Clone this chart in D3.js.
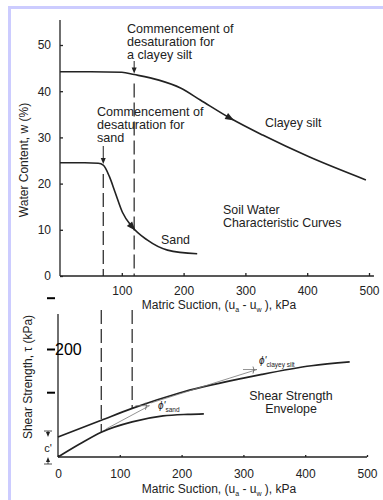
<!DOCTYPE html>
<html>
<head>
<meta charset="utf-8">
<script src="https://cdn.jsdelivr.net/npm/d3@7"></script>
<style>
body { margin: 0; background: #fff; }
svg { display: block; font-family: "Liberation Sans", Arial, Helvetica, sans-serif; }
</style>
</head>
<body>
<svg id="chart" width="383" height="500"></svg>
<script>
// soil water characteristic curves (top panel)
var clayeySuction = [0, 50, 100, 120, 160, 195, 227, 275, 328, 403, 495];
var clayeyWater   = [44.2, 44.2, 44.1, 43.6, 42.4, 40.7, 38.1, 34.2, 30.5, 25.8, 20.8];
var sandSuction   = [0, 40, 62, 70, 80, 89, 101, 117, 141, 174, 222];
var sandWater     = [24.5, 24.5, 24.4, 24.0, 21.5, 18.2, 13.8, 10.6, 7.8, 5.6, 4.8];

// shear strength envelopes (bottom panel)
var envClayeySuction = [0, 70, 120, 195, 300, 330, 410, 472];
var envClayeyShear   = [37, 68, 90, 118, 146, 153, 169, 176];
var envSandSuction   = [0, 35, 70, 120, 170, 210, 236];
var envSandShear     = [0, 24, 46, 65, 76, 79, 80];

// commencement of desaturation (kPa)
var aevSand = 70, aevClayey = 120;

var suctionTicks = [100, 200, 300, 400, 500];
var suctionTicksBottom = [0, 100, 200, 300, 400, 500];
var waterTicks = [0, 10, 20, 30, 40, 50];
var shearTicks = [120, 200, 295];

var ink = "#222";
var svg = d3.select("#chart");

// frame
svg.append("line").attr("x1", 8).attr("x2", 383).attr("y1", 7.5).attr("y2", 7.5)
  .attr("stroke", "#ccccff").attr("stroke-width", 3);
svg.append("line").attr("x1", 9.5).attr("x2", 9.5).attr("y1", 6).attr("y2", 500)
  .attr("stroke", "#ccccff").attr("stroke-width", 3);

var x = d3.scaleLinear().domain([0, 500]).range([60, 369]);
var xB = d3.scaleLinear().domain([0, 500]).range([58, 367]);
var yW = d3.scaleLinear().domain([0, 50]).range([276, 45]);
var yS = d3.scaleLinear().domain([0, 200]).range([457, 349]);

function zip(a, b) { return a.map(function(v, i) { return [v, b[i]]; }); }

function pointAtX(node, px) {
  var lo = 0, hi = node.getTotalLength();
  for (var k = 0; k < 40; k++) {
    var mid = (lo + hi) / 2;
    if (node.getPointAtLength(mid).x < px) lo = mid; else hi = mid;
  }
  return node.getPointAtLength(lo);
}

function arrowHead(px, py, angle, len, w) {
  svg.append("path")
    .attr("d", "M0,0L" + (-len) + "," + (-w) + "L" + (-len) + "," + w + "Z")
    .attr("transform", "translate(" + px + "," + py + ") rotate(" + angle + ")")
    .attr("fill", ink);
}

function curveArrow(node, px) {
  var a = pointAtX(node, px - 3), b = pointAtX(node, px + 3);
  var ang = Math.atan2(b.y - a.y, b.x - a.x) * 180 / Math.PI;
  var p = pointAtX(node, px);
  arrowHead(p.x + 3, p.y + 3 * Math.tan(ang * Math.PI / 180), ang, 9, 3.5);
}

function label(lines, px, py, size, anchor) {
  var t = svg.append("text").attr("x", px).attr("y", py)
    .attr("font-size", size).attr("fill", ink).attr("text-anchor", anchor || "start");
  lines.forEach(function(s, i) {
    t.append("tspan").attr("x", px).attr("dy", i ? 13 : 0).text(s);
  });
  return t;
}

// ---------- top panel ----------
var gx = svg.append("g").attr("transform", "translate(0,276)")
  .call(d3.axisBottom(x).tickValues(suctionTicks).tickSizeInner(-3).tickSizeOuter(0).tickPadding(10));
gx.select(".domain").attr("d", "M" + x(0) + ",0H" + x(508));
var gy = svg.append("g").attr("transform", "translate(" + x(0) + ",0)")
  .call(d3.axisLeft(yW).tickValues(waterTicks).tickSizeInner(-3).tickSizeOuter(0).tickPadding(9));
gy.select(".domain").attr("d", "M0,276V20");
[gx, gy].forEach(function(g) {
  g.selectAll("path, line").attr("stroke", ink).attr("stroke-width", 1.3);
  g.selectAll("text").attr("font-size", 12).attr("fill", ink).attr("font-family", null);
});

var lineW = d3.line().x(function(d) { return x(d[0]); }).y(function(d) { return yW(d[1]); })
  .curve(d3.curveMonotoneX);
var clayPath = svg.append("path").datum(zip(clayeySuction, clayeyWater)).attr("d", lineW)
  .attr("fill", "none").attr("stroke", ink).attr("stroke-width", 1.6);
var sandPath = svg.append("path").datum(zip(sandSuction, sandWater)).attr("d", lineW)
  .attr("fill", "none").attr("stroke", ink).attr("stroke-width", 1.6);

curveArrow(clayPath.node(), x(277));
curveArrow(sandPath.node(), x(117));

// commencement markers and dashed lines
[[aevClayey, clayPath.node(), 61], [aevSand, sandPath.node(), 146]].forEach(function(m) {
  var px = x(m[0]), py = pointAtX(m[1], px).y;
  svg.append("line").attr("x1", px).attr("x2", px).attr("y1", m[2]).attr("y2", py - 4)
    .attr("stroke", ink).attr("stroke-width", 1);
  arrowHead(px, py - 1, 90, 6, 2.5);
  svg.append("line").attr("x1", px).attr("x2", px).attr("y1", py + 9).attr("y2", 276)
    .attr("stroke", ink).attr("stroke-width", 1.2).attr("stroke-dasharray", "14 5");
});

label(["Commencement of", "desaturation for", "a clayey silt"], 127, 33, 12.6);
label(["Commencement of", "desaturation for", "sand"], 97, 116, 12.6);
label(["Clayey silt"], 265, 127, 12.4);
label(["Sand"], 161, 244, 12.4);
label(["Soil Water", "Characteristic Curves"], 223, 214, 12.4);

svg.append("text").attr("transform", "translate(28,160) rotate(-90)")
  .attr("text-anchor", "middle").attr("font-size", 12).attr("fill", ink)
  .text("Water Content, w (%)");

function suctionTitle(py) {
  var t = svg.append("text").attr("x", 219).attr("y", py).attr("text-anchor", "middle")
    .attr("font-size", 12).attr("fill", ink);
  t.append("tspan").text("Matric Suction, (u");
  t.append("tspan").attr("font-size", 7).attr("dy", 3).text("a");
  t.append("tspan").attr("dy", -3).text("  - u");
  t.append("tspan").attr("font-size", 7).attr("dy", 3).text("w");
  t.append("tspan").attr("dy", -3).text(" ), kPa");
}
suctionTitle(309);

// ---------- bottom panel ----------
var gxb = svg.append("g").attr("transform", "translate(0,457)")
  .call(d3.axisBottom(xB).tickValues(suctionTicksBottom).tickSizeInner(-2).tickSizeOuter(0).tickPadding(12));
gxb.select(".domain").attr("d", "M" + xB(0) + ",0H" + xB(500));
gxb.selectAll("path, line").attr("stroke", ink).attr("stroke-width", 1.3);
gxb.selectAll("text").attr("font-size", 12).attr("fill", ink).attr("font-family", null);
svg.append("line").attr("x1", xB(0)).attr("x2", xB(0)).attr("y1", yS(0)).attr("y2", 314)
  .attr("stroke", ink).attr("stroke-width", 1.3);

var gys = svg.append("g").attr("transform", "translate(47,0)")
  .call(d3.axisRight(yS).tickValues(shearTicks).tickSize(8).tickPadding(0)
    .tickFormat(function(d) { return d === 200 ? "200" : ""; }));
gys.select(".domain").remove();
gys.selectAll("line").attr("stroke", "#000").attr("stroke-width", 2);
gys.selectAll("text").attr("font-size", 16).attr("fill", "#000").attr("font-family", null);

var lineS = d3.line().x(function(d) { return xB(d[0]); }).y(function(d) { return yS(d[1]); })
  .curve(d3.curveMonotoneX);
var envClay = svg.append("path").datum(zip(envClayeySuction, envClayeyShear)).attr("d", lineS)
  .attr("fill", "none").attr("stroke", ink).attr("stroke-width", 1.7);
var envSand = svg.append("path").datum(zip(envSandSuction, envSandShear)).attr("d", lineS)
  .attr("fill", "none").attr("stroke", ink).attr("stroke-width", 1.7);

[[aevSand, envSand.node()], [aevClayey, envClay.node()]].forEach(function(m) {
  var px = xB(m[0]), py = pointAtX(m[1], px).y;
  svg.append("line").attr("x1", px).attr("x2", px).attr("y1", 310).attr("y2", py)
    .attr("stroke", ink).attr("stroke-width", 1.2).attr("stroke-dasharray", "14 5");
});

// friction angle tangents
function tangent(s0, t0, s1, t1) {
  svg.append("line").attr("x1", xB(s0)).attr("y1", yS(t0)).attr("x2", xB(s1)).attr("y2", yS(t1))
    .attr("stroke", "#777").attr("stroke-width", 0.8);
  svg.append("line").attr("x1", xB(s1)).attr("y1", yS(t1)).attr("x2", xB(s1) - 14).attr("y2", yS(t1))
    .attr("stroke", "#777").attr("stroke-width", 0.8);
  svg.append("path")
    .attr("d", "M" + (xB(s1) - 4) + "," + (yS(t1) - 3) + "q2,3 0,7")
    .attr("fill", "none").attr("stroke", "#555").attr("stroke-width", 0.8);
}
tangent(78, 52, 148, 95);
tangent(150, 100, 322, 162);

function phi(px, py, sub) {
  var t = svg.append("text").attr("x", px).attr("y", py).attr("font-size", 10).attr("fill", ink);
  t.append("tspan").attr("font-style", "italic").text("\u03d5'");
  t.append("tspan").attr("font-size", 6.5).attr("dy", 3).text(sub);
}
phi(158, 409, "sand");
phi(259, 364, "clayey silt");

label(["Shear Strength"], 291, 400, 12.4, "middle");
label(["Envelope"], 291, 413, 12.4, "middle");

// c' marker
arrowHead(48, yS(37), 90, 5, 2);
svg.append("line").attr("x1", 44).attr("x2", 52).attr("y1", yS(37) - 6).attr("y2", yS(37) - 6)
  .attr("stroke", ink).attr("stroke-width", 0.8);
svg.append("line").attr("x1", 48).attr("x2", 48).attr("y1", yS(37) - 6).attr("y2", yS(37) - 3)
  .attr("stroke", ink).attr("stroke-width", 0.8);
arrowHead(48, yS(0), -90, 5, 2);
svg.append("line").attr("x1", 48).attr("x2", 48).attr("y1", yS(0) + 4).attr("y2", yS(0) + 7)
  .attr("stroke", ink).attr("stroke-width", 0.8);
svg.append("line").attr("x1", 44).attr("x2", 52).attr("y1", yS(0) + 7).attr("y2", yS(0) + 7)
  .attr("stroke", ink).attr("stroke-width", 0.8);
svg.append("text").attr("x", 48).attr("y", 452).attr("text-anchor", "middle")
  .attr("font-size", 11).attr("fill", ink).text("c'");

svg.append("text").attr("transform", "translate(32,377) rotate(-90)")
  .attr("text-anchor", "middle").attr("font-size", 12).attr("fill", ink)
  .text("Shear Strength, \u03c4  (kPa)");
suctionTitle(493);
</script>
</body>
</html>
